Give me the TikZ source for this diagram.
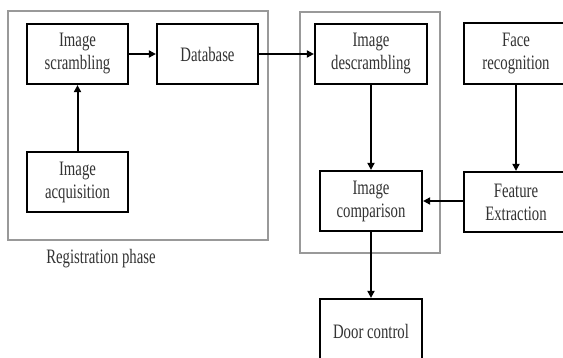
\documentclass[tikz,border=0pt]{standalone}
\usepackage{fontspec}
\setmainfont[FakeStretch=0.72]{Liberation Serif}
\usetikzlibrary{arrows.meta}
\begin{document}
\begin{tikzpicture}[x=1pt,y=-1pt,
  blk/.style={draw=black,line width=2.2pt,inner sep=0pt,align=center,
    text=black!80,font=\fontsize{20.5}{23}\selectfont},
  panel/.style={draw=black!40,line width=1.6pt},
  arr/.style={line width=2pt,-{Triangle[length=7pt,width=7pt]}}]
\clip (0,0) rectangle (563,358);
\fill[white] (0,0) rectangle (563,358);
% panels
\draw[panel] (8,11) rectangle (268,240);
\draw[panel] (300,12) rectangle (440,253);
% nodes
\node[blk,minimum width=101pt,minimum height=60pt] (scr) at (77.5,54) {Image\\scrambling};
\node[blk,minimum width=101pt,minimum height=60pt] (db) at (207.5,54) {Database};
\node[blk,minimum width=101pt,minimum height=60pt] (acq) at (77.5,182) {Image\\acquisition};
\node[blk,minimum width=112pt,minimum height=60pt] (desc) at (371,54) {Image\\descrambling};
\node[blk,minimum width=104pt,minimum height=61pt] (face) at (516,53.5) {Face\\recognition};
\node[blk,minimum width=102pt,minimum height=60pt] (comp) at (371,201) {Image\\comparison};
\node[blk,minimum width=104pt,minimum height=60pt] (feat) at (516,202) {Feature\\Extraction};
\node[blk,minimum width=102pt,minimum height=64pt] (door) at (371,331) {Door control};
\node[text=black!80,font=\fontsize{20.5}{23}\selectfont,inner sep=0pt] (reg) at (101,259) {Registration phase};
% connectors
\draw[arr] (acq) -- (scr);
\draw[arr] (scr) -- (db);
\draw[arr] (db) -- (desc);
\draw[arr] (desc) -- (comp);
\draw[arr] (face) -- (feat);
\draw[arr] (feat.west |- comp.east) -- (comp.east);
\draw[arr] (comp) -- (door);
\end{tikzpicture}
\end{document}
